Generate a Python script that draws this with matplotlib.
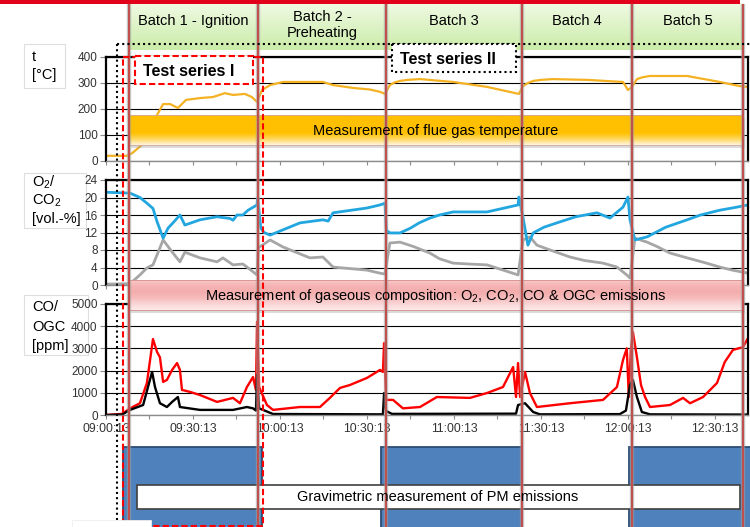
import numpy as np
import matplotlib
matplotlib.use('Agg')
import matplotlib.pyplot as plt
from matplotlib.patches import Rectangle
from matplotlib.colors import LinearSegmentedColormap

plt.rcParams['font.family'] = ['Liberation Sans', 'DejaVu Sans']
plt.rcParams['mathtext.fontset'] = 'custom'
plt.rcParams['mathtext.rm'] = 'Liberation Sans'
plt.rcParams['mathtext.it'] = 'Liberation Sans:italic'
plt.rcParams['mathtext.bf'] = 'Liberation Sans:bold'
plt.rcParams['mathtext.default'] = 'regular'

# ---------------- data (time in minutes after 09:00:13) ----------------
temp_t = [0, 7.2, 9.0, 12.4, 15.2, 17.6, 19.7, 22.1, 24.8, 27.6, 32.4, 36.9, 41.0, 43.8, 47.9,
          50.3, 52.1, 53.8, 56.6, 61.0, 74.8, 78.3, 85.2, 91.0, 94.5, 96.2, 97.9, 99.5, 101.4, 104.0,
          108.3, 119.7, 131.4, 142.4, 143.8, 145.5, 147.3, 150.0, 154.1, 165.9, 178.3, 180.0, 181.4, 183.1, 185.0,
          187.6, 200.4, 211.7, 218.6, 221.4]
temp_v = [20, 20, 30, 62, 120, 177, 219, 219, 204, 235, 242, 246, 261, 254, 258,
          246, 227, 273, 292, 304, 304, 292, 281, 275, 266, 258, 292, 302, 308, 312,
          315, 304, 285, 258, 288, 300, 308, 312, 315, 312, 304, 273, 285, 315, 322,
          327, 327, 304, 288, 285]

o2_t = [0, 8.3, 11.7, 14.1, 16.2, 17.6, 19.7, 21.4, 23.1, 25.5, 27.2, 32.4, 38.3, 42.8, 43.8,
        45.2, 47.2, 49.0, 52.1, 52.3, 53.4, 54.5, 56.6, 61.0, 66.9, 74.8, 76.6, 78.3, 90.0, 94.5,
        96.2, 96.7, 97.9, 101.4, 105.0, 108.0, 111.7, 115.0, 119.7, 131.4, 142.1, 142.4, 143.8, 145.5, 147.3,
        151.0, 155.5, 162.0, 169.3, 173.8, 178.3, 180.0, 180.7, 182.4, 186.6, 193.0, 200.4, 205.0, 211.7, 217.6,
        221.4]
o2_v = [21.2, 21.0, 20.0, 18.7, 17.5, 14.5, 10.7, 13.0, 14.2, 16.0, 13.7, 14.9, 15.6, 15.2, 14.8,
        16.0, 16.0, 17.1, 18.3, 19.9, 13.0, 12.0, 11.4, 12.6, 14.2, 14.9, 14.6, 16.5, 17.6, 18.3,
        18.7, 12.5, 11.9, 11.9, 13.0, 14.2, 15.3, 16.0, 16.7, 16.7, 18.3, 20.1, 15.5, 9.1, 11.9,
        13.2, 14.2, 15.6, 16.5, 15.3, 17.8, 20.1, 14.9, 10.3, 11.0, 13.2, 14.9, 16.0, 17.1, 17.8,
        18.3]

co2_t = [0, 8.3, 11.7, 14.1, 16.2, 19.7, 23.1, 25.5, 27.2, 32.4, 38.3, 40.3, 43.8, 47.2, 49.0,
         52.1, 52.5, 56.6, 61.0, 70.3, 74.8, 78.3, 90.0, 94.5, 96.2, 97.9, 101.4, 106.0, 111.7, 115.0,
         119.7, 125.0, 131.4, 142.1, 143.8, 146.2, 148.6, 154.0, 160.0, 165.0, 171.4, 176.2, 179.6, 180.7, 182.4,
         186.6, 190.0, 194.5, 200.4, 206.0, 211.7, 216.0, 221.4]
co2_v = [0.2, 0.3, 2.3, 3.9, 4.6, 10.3, 7.3, 5.3, 7.5, 6.2, 5.3, 6.2, 4.6, 4.8, 3.9,
         2.3, 8.5, 10.3, 8.7, 6.2, 6.4, 4.1, 3.4, 2.7, 2.5, 9.6, 9.8, 8.8, 7.3, 6.0,
         5.0, 4.8, 4.6, 2.3, 10.3, 11.0, 9.1, 7.8, 6.4, 5.6, 5.0, 4.1, 2.3, 1.6, 10.7,
         9.8, 8.8, 7.3, 6.2, 5.2, 4.1, 3.4, 2.7]

co_t = [0, 5.5, 8.3, 11.7, 14.1, 16.2, 17.6, 18.6, 19.7, 21.0, 22.8, 24.5, 25.5, 26.2, 29.0,
        32.4, 38.3, 43.8, 46.2, 48.6, 50.7, 51.7, 52.1, 52.8, 55.5, 57.6, 66.9, 73.8, 77.2, 80.7,
        84.1, 90.0, 94.5, 95.5, 95.9, 96.6, 99.0, 102.4, 108.3, 114.1, 125.5, 131.4, 136.9, 140.4, 141.4,
        142.1, 142.8, 144.5, 146.2, 148.6, 160.0, 171.4, 176.2, 178.3, 179.6, 180.3, 181.0, 181.7, 183.1, 184.5,
        185.9, 187.6, 194.5, 199.0, 201.4, 205.9, 210.7, 213.4, 216.2, 219.7, 221.4]
co_v = [0, 50, 300, 530, 1440, 3420, 2840, 2600, 1490, 1580, 2030, 2340, 2030, 1130, 1040,
        900, 590, 770, 530, 1260, 1710, 1130, 4200, 1260, 450, 230, 360, 360, 770, 1220,
        1350, 1670, 2030, 1940, 3240, 680, 680, 300, 360, 810, 770, 990, 1260, 2160, 810,
        2340, 810, 1940, 990, 360, 530, 680, 1260, 2480, 3000, 810, 2930, 3740, 2600, 1350,
        810, 360, 450, 770, 530, 810, 1440, 2390, 2930, 3060, 3470]

ogc_t = [0, 5.5, 8.3, 12.8, 15.9, 16.9, 18.6, 21.0, 22.8, 24.8, 25.5, 32.4, 43.8, 48.6, 50.7,
         51.7, 52.1, 52.8, 57.6, 95.5, 95.9, 96.6, 98.6, 141.4, 142.1, 144.5, 147.3, 149.6, 177.2, 179.3,
         180.7, 181.7, 183.1, 184.8, 187.6, 221.4]
ogc_v = [0, 20, 230, 450, 1940, 1260, 530, 360, 590, 810, 360, 230, 230, 360, 300,
         200, 1800, 300, 45, 30, 990, 180, 50, 60, 450, 530, 135, 30, 40, 200,
         1350, 1580, 810, 135, 30, 20]

x_label_pos = [0, 30, 60, 90, 120, 150, 180, 210]
x_labels = ['09:00:13', '09:30:13', '10:00:13', '10:30:13', '11:00:13', '11:30:13', '12:00:13', '12:30:13']
batch_bounds = [7.9, 52.4, 96.6, 143.5, 181.4, 219.7]
batch_names = ['Batch 1 - Ignition', 'Batch 2 -\nPreheating', 'Batch 3', 'Batch 4', 'Batch 5']
pm_start = [5.9, 94.8, 180.4]
pm_end = [53.8, 143.4, 224.0]
T_MAX = 221.4

# ---------------- figure ----------------
W, H = 750, 527
fig = plt.figure(figsize=(7.5, 5.27), dpi=100)


def axes_px(left, top, right, bottom):
    return fig.add_axes([left / W, 1 - bottom / H, (right - left) / W, (bottom - top) / H])


ax1 = axes_px(106, 57, 748, 161)
ax2 = axes_px(106, 180, 748, 285)
ax3 = axes_px(106, 304, 748, 415)


def style(ax, ymax, step):
    ax.set_xlim(0, T_MAX)
    ax.set_ylim(0, ymax)
    ax.set_yticks(np.arange(0, ymax + 1, step))
    ax.set_xticks(np.arange(0, T_MAX, 15))
    ax.grid(axis='y', color='black', lw=0.8)
    ax.set_axisbelow(True)
    for s in ['top', 'left', 'right']:
        ax.spines[s].set(color='black', lw=1.6)
    ax.spines['bottom'].set(color='#8c8c8c', lw=1)
    ax.tick_params(axis='y', direction='out', length=4, width=0.8, color='#8c8c8c',
                   labelsize=8.5, labelcolor='#333333', pad=2)
    ax.tick_params(axis='x', direction='out', length=3, width=0.8, color='#8c8c8c',
                   labelbottom=False)


style(ax1, 400, 100)
style(ax2, 24, 4)
style(ax3, 5000, 1000)
ax3.set_xticks(x_label_pos)
ax3.set_xticklabels(x_labels)
ax3.set_xticks(np.arange(15, T_MAX, 30), minor=True)
ax3.tick_params(axis='x', which='both', direction='out', length=3, width=0.8, color='#8c8c8c',
                labelbottom=True, labelsize=8.7, labelcolor='#333333', pad=3)

ax1.plot(temp_t, temp_v, color='#F4B223', lw=1.6)
ax2.plot(co2_t, co2_v, color='#A6A6A6', lw=2.0)
ax2.plot(o2_t, o2_v, color='#22A6DF', lw=2.0)
ax3.plot(co_t, co_v, color='#FF0000', lw=1.7)
ax3.plot(ogc_t, ogc_v, color='black', lw=1.7)

# ---------------- overlay in pixel coordinates ----------------
ov = fig.add_axes([0, 0, 1, 1], zorder=10)
ov.patch.set_alpha(0)
ov.axis('off')
ov.set_autoscale_on(False)
ov.set_xlim(0, W)
ov.set_ylim(H, 0)


def tpx(t):
    disp = ax3.transData.transform((t, 0))
    return ov.transData.inverted().transform(disp)[0]


def grad_rect(x0, y0, x1, y1, colors, z):
    cmap = LinearSegmentedColormap.from_list('g', colors)
    g = np.linspace(0, 1, 256).reshape(-1, 1)
    ov.imshow(g, cmap=cmap, extent=[x0, x1, y1, y0], aspect='auto', zorder=z,
              interpolation='bilinear')


# left label boxes (behind the axes tick labels)
for (bx, by, bw, bh) in [(24, 44, 41, 44), (24, 173, 62, 55), (24, 295, 64, 60)]:
    fig.add_artist(Rectangle((bx / W, 1 - (by + bh) / H), bw / W, bh / H, transform=fig.transFigure,
                             fc='white', ec='#DEDEDE', lw=0.8, zorder=-1))
# small white box at bottom-left covering lines
ov.add_patch(Rectangle((72, 520), 79, 12, fc='white', ec='#EEEEEE', lw=0.6, zorder=9))

lab_kw = dict(fontsize=10.5, ha='left', va='center', color='black', zorder=12)
ov.text(32, 57, 't', **lab_kw)
ov.text(32, 75, '[°C]', **lab_kw)
ov.text(32, 182, 'O$_2$/', **lab_kw)
ov.text(32, 201, 'CO$_2$', **lab_kw)
ov.text(32, 219, '[vol.-%]', **lab_kw)
ov.text(32, 307, 'CO/', **lab_kw)
ov.text(32, 327, 'OGC', **lab_kw)
ov.text(32, 346, '[ppm]', **lab_kw)

x_first = tpx(batch_bounds[0])
x_last = tpx(batch_bounds[-1])

# top red bar
ov.add_patch(Rectangle((0, 0), 740, 3.5, fc='#E2001A', ec='none', zorder=3))

# batch headers
for i, name in enumerate(batch_names):
    x0, x1 = tpx(batch_bounds[i]), tpx(batch_bounds[i + 1])
    grad_rect(x0, 3.5, x1, 50, ['#F0FAE4', '#DDF3C6', '#CBECA8'], 2)
    yc = 25 if '\n' in name else 21
    ov.text((x0 + x1) / 2, yc, name, fontsize=10.5, ha='center', va='center',
            linespacing=1.2, zorder=12)

# orange band
ov.add_patch(Rectangle((x_first + 2, 118), x_last - x_first, 30, fc='#9a9a9a', ec='none', alpha=0.35, zorder=3))
grad_rect(x_first, 115, x_last, 145, ['#FFC000', '#FFC000', '#FFC000', '#FFC000', '#FFD75E', '#FFF6E0'], 4)
ov.add_patch(Rectangle((x_first, 115), x_last - x_first, 30, fc='none', ec='#D2A8A0', lw=0.6, zorder=5))
ov.text((x_first + x_last) / 2, 131, 'Measurement of flue gas temperature', fontsize=10.5,
        ha='center', va='center', zorder=12)

# pink band
ov.add_patch(Rectangle((x_first + 2, 283), x_last - x_first, 30, fc='#9a9a9a', ec='none', alpha=0.35, zorder=3))
grad_rect(x_first, 280, x_last, 310, ['#F9CACA', '#F5B3B3', '#F4ADAD', '#F6BBBB', '#FAD6D6', '#FDEAEA'], 4)
ov.add_patch(Rectangle((x_first, 280), x_last - x_first, 30, fc='none', ec='#D99694', lw=0.7, zorder=5))
ov.text((x_first + x_last) / 2, 296,
        'Measurement of gaseous composition: O$_2$, CO$_2$, CO & OGC emissions',
        fontsize=10.5, ha='center', va='center', zorder=12)

# gravimetric PM boxes
for s, e in zip(pm_start, pm_end):
    x0, x1 = tpx(s), tpx(e)
    ov.add_patch(Rectangle((x0, 447), x1 - x0, 100, fc='#4F81BD', ec='#2C4D75', lw=1.3, zorder=3))
ov.add_patch(Rectangle((137, 485), 603, 24, fc='white', ec='#404040', lw=1.2, zorder=5))
ov.text(438, 497, 'Gravimetric measurement of PM emissions', fontsize=10.5,
        ha='center', va='center', zorder=12)

# batch boundary lines
for b in batch_bounds:
    xb = tpx(b)
    ov.plot([xb, xb], [3.5, H], color='#A0A0A0', lw=3.2, alpha=0.55, zorder=6, solid_capstyle='butt')
    ov.plot([xb, xb], [3.5, H], color='#C0504D', lw=1.5, zorder=7, solid_capstyle='butt')

# test series II (dotted black)
ov.plot([117, 750], [44, 44], color='black', ls=(0, (1, 1.5)), lw=1.5, zorder=8)
ov.plot([117, 117], [44, 520], color='black', ls=(0, (1, 1.5)), lw=1.5, zorder=8)
ov.add_patch(Rectangle((392, 44), 124, 28, fc='white', ec='black', ls=(0, (1, 1.5)), lw=1.5, zorder=8))
ov.text(400, 59, 'Test series II', fontsize=11.5, fontweight='bold', ha='left', va='center', zorder=12)

# test series I (dashed red)
ov.plot([123, 263, 263, 123, 123], [57, 57, 526, 526, 57], color='#FF0000',
        ls=(0, (3, 1.5)), lw=1.5, zorder=8)
ov.add_patch(Rectangle((135, 56), 118, 28, fc='white', ec='#FF0000', ls=(0, (3, 1.5)), lw=1.5, zorder=8))
ov.text(143, 71, 'Test series I', fontsize=11.5, fontweight='bold', ha='left', va='center', zorder=12)

ov.set_xlim(0, W)
ov.set_ylim(H, 0)

fig.savefig('out.png', dpi=100)
